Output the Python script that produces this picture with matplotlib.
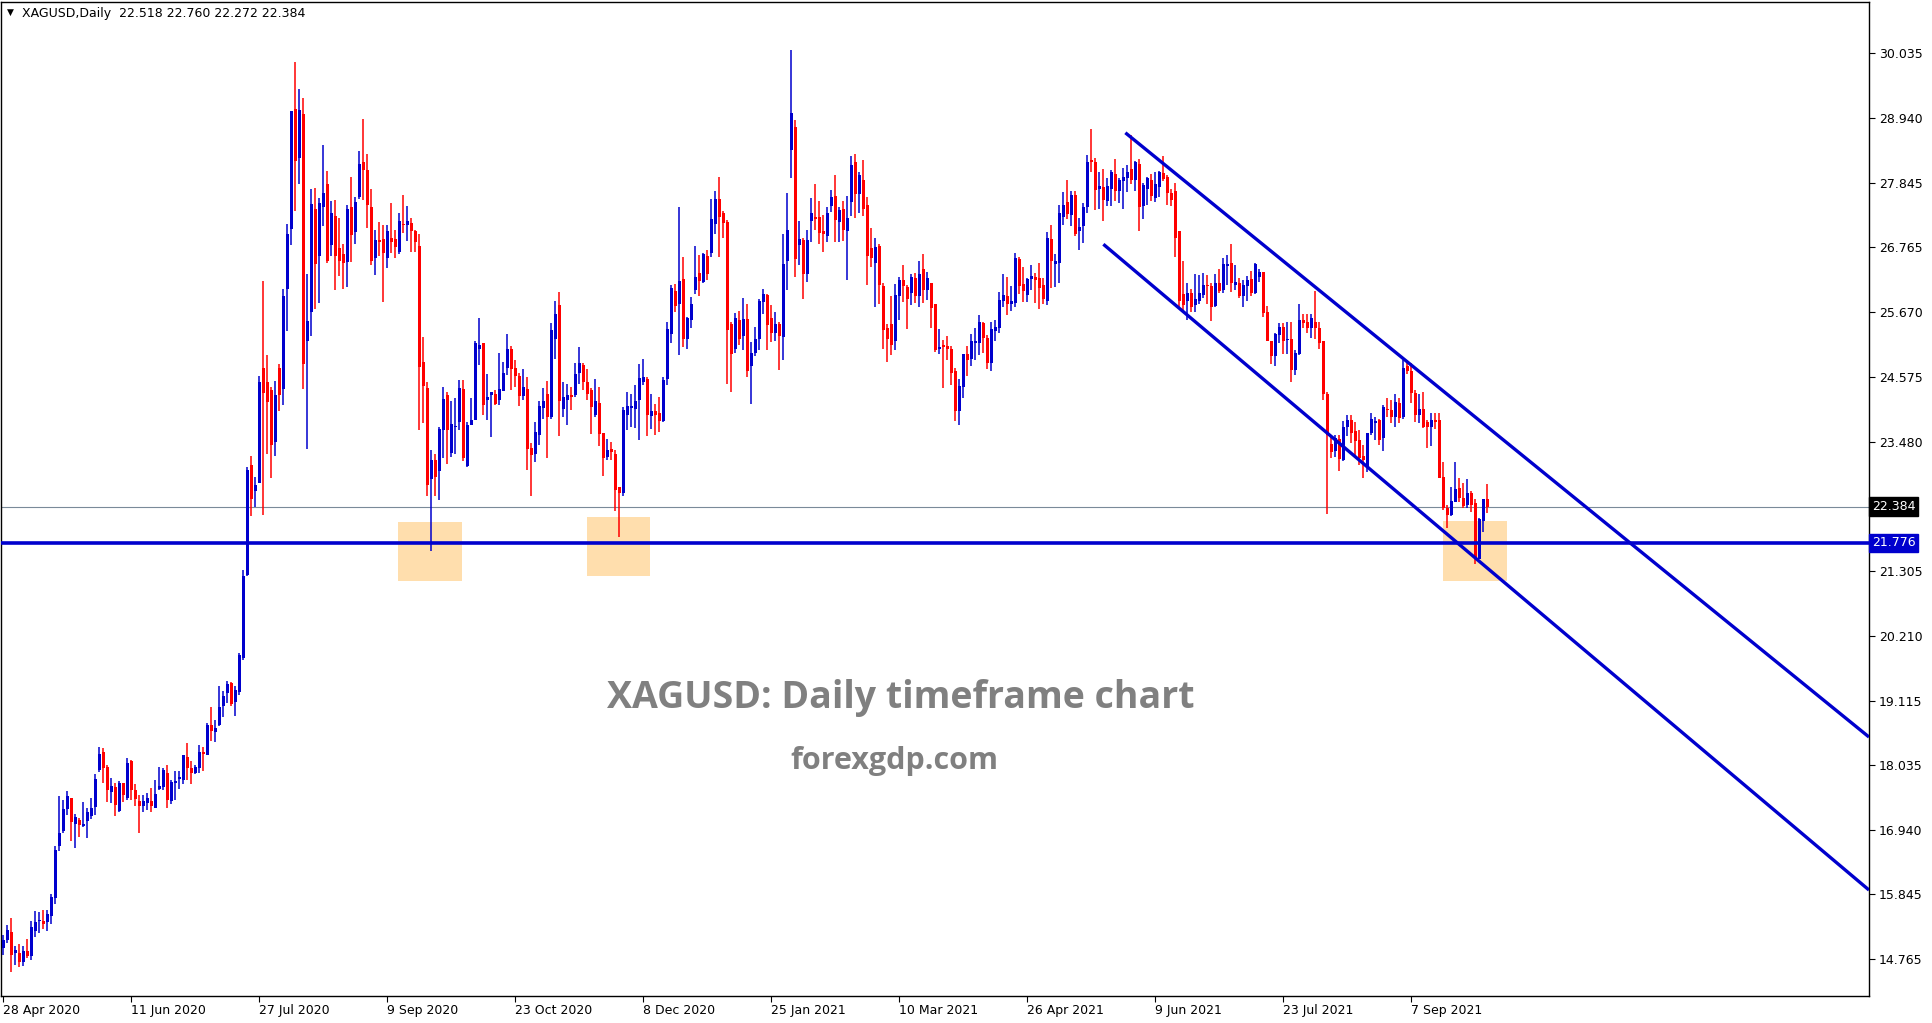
import numpy as np
import matplotlib
matplotlib.use("Agg")
import matplotlib.pyplot as plt
import matplotlib.transforms as mtransforms
from matplotlib.patches import Rectangle

# daily XAGUSD candles (bar 0 = 28 Apr 2020)
opens = [
    14.94, 15.07, 15.21, 14.86, 14.85, 14.71, 14.89, 14.81, 15.23, 15.40,
    15.40, 15.38, 15.49, 15.79, 16.66, 16.92, 17.28, 17.47, 17.04, 17.10,
    17.00, 17.09, 17.17, 17.32, 17.94, 18.24, 17.99, 17.58, 17.65, 17.25,
    17.72, 17.48, 18.09, 17.61, 17.42, 17.33, 17.38, 17.42, 17.31, 17.62,
    17.66, 17.89, 17.42, 17.73, 17.79, 17.78, 18.17, 17.98, 17.90, 17.98,
    18.25, 18.19, 18.70, 18.59, 18.70, 19.03, 19.25, 19.41, 19.09, 19.26,
    19.83, 21.24, 23.08, 22.65, 22.78, 24.72, 24.49, 24.35, 23.48, 24.72,
    24.37, 26.06, 27.06, 29.09, 28.26, 29.00, 25.17, 25.66, 27.40, 26.61,
    27.44, 27.83, 26.80, 27.28, 26.75, 26.64, 26.51, 27.44, 27.01, 27.61,
    28.19, 28.06, 27.43, 26.58, 26.88, 26.89, 26.58, 26.91, 26.89, 26.68,
    27.15, 27.13, 27.17, 27.03, 26.78, 24.82, 24.38, 22.85, 23.17, 22.99,
    23.68, 24.27, 23.29, 23.73, 23.82, 24.37, 23.07, 23.77, 23.85, 25.05,
    25.14, 24.18, 24.26, 24.28, 24.19, 24.34, 24.72, 25.04, 24.72, 24.59,
    24.25, 24.37, 23.37, 23.27, 23.59, 24.05, 24.28, 23.89, 25.21, 25.79,
    24.03, 24.18, 24.27, 24.27, 24.64, 24.77, 24.49, 24.35, 23.93, 24.13,
    23.62, 23.23, 23.35, 23.27, 22.72, 22.61, 23.93, 24.05, 24.04, 24.18,
    24.48, 24.54, 23.92, 23.99, 23.96, 23.83, 24.53, 25.30, 26.02, 25.81,
    26.23, 25.22, 25.54, 26.04, 26.32, 26.18, 26.61, 26.67, 27.15, 27.57,
    27.33, 27.18, 25.46, 25.05, 25.53, 25.27, 25.55, 24.75, 24.98, 25.21,
    25.84, 25.95, 25.57, 25.32, 25.46, 25.25, 26.53, 28.40, 28.78, 26.80,
    26.88, 26.31, 27.20, 27.27, 27.27, 27.03, 26.95, 27.45, 27.62, 27.19,
    27.40, 27.03, 27.53, 28.19, 27.66, 27.90, 27.47, 26.74, 26.50, 26.78,
    26.11, 25.39, 25.47, 25.17, 25.93, 26.21, 26.09, 25.98, 26.24, 25.94,
    26.40, 26.04, 26.15, 25.80, 25.04, 25.11, 25.09, 25.04, 24.67, 24.00,
    24.41, 24.96, 24.88, 25.14, 25.15, 25.49, 25.23, 24.81, 25.35, 25.40,
    25.85, 25.94, 25.80, 25.82, 26.56, 26.14, 25.95, 26.22, 26.26, 26.24,
    26.12, 25.86, 26.90, 26.47, 26.50, 27.27, 27.52, 27.30, 27.64, 27.03,
    27.11, 27.43, 28.23, 28.20, 27.74, 27.78, 27.54, 27.74, 27.99, 27.70,
    27.88, 27.93, 28.08, 27.89, 28.16, 27.46, 27.75, 27.89, 27.59, 27.77,
    28.01, 27.94, 27.68, 27.70, 27.03, 25.97, 25.86, 25.98, 25.79, 25.86,
    25.95, 26.12, 26.10, 25.77, 26.15, 26.04, 26.45, 26.50, 26.13, 26.16,
    25.93, 26.11, 26.22, 25.98, 26.25, 26.35, 25.66, 25.18, 24.93, 25.28,
    25.42, 25.19, 25.22, 24.69, 24.96, 25.53, 25.50, 25.39, 25.50, 25.40,
    25.17, 24.28, 23.44, 23.32, 23.53, 23.17, 23.73, 23.85, 23.66, 23.51,
    23.24, 23.04, 23.62, 23.80, 23.85, 23.55, 24.03, 24.01, 23.90, 24.14,
    23.90, 24.75, 24.67, 24.30, 23.93, 24.04, 23.82, 23.73, 23.85, 23.85,
    22.89, 22.37, 22.24, 22.47, 22.70, 22.53, 22.42, 22.61, 22.44, 21.51,
    22.14, 22.518,
]
highs = [
    15.16, 15.33, 15.44, 14.98, 15.01, 14.98, 15.09, 15.39, 15.57, 15.55,
    15.58, 15.59, 15.86, 16.67, 17.50, 17.44, 17.59, 17.48, 17.20, 17.14,
    17.40, 17.30, 17.47, 17.88, 18.33, 18.31, 18.03, 17.81, 17.72, 17.76,
    17.72, 18.15, 18.11, 17.71, 17.52, 17.52, 17.55, 17.64, 17.78, 18.00,
    17.98, 18.03, 17.78, 17.92, 17.93, 18.20, 18.40, 18.10, 18.02, 18.37,
    18.34, 18.74, 19.01, 18.78, 19.36, 19.28, 19.44, 19.43, 19.36, 19.91,
    21.31, 23.05, 23.24, 22.89, 24.58, 26.19, 24.95, 24.40, 24.50, 24.79,
    26.06, 27.15, 29.05, 29.89, 29.43, 29.27, 26.30, 27.75, 27.76, 27.59,
    28.48, 28.05, 27.54, 27.56, 27.25, 26.82, 27.47, 27.95, 27.61, 28.38,
    28.93, 28.33, 27.74, 27.05, 27.19, 27.13, 27.13, 27.51, 27.05, 27.33,
    27.64, 27.45, 27.25, 27.05, 26.99, 25.25, 24.48, 23.34, 23.28, 23.73,
    24.40, 24.32, 24.17, 24.21, 24.52, 24.52, 23.82, 24.21, 25.17, 25.56,
    25.15, 24.63, 24.32, 24.36, 24.98, 24.82, 25.30, 25.09, 24.86, 24.64,
    24.70, 24.57, 23.45, 23.82, 24.17, 24.39, 24.50, 25.49, 25.85, 26.00,
    24.49, 24.45, 24.41, 24.81, 25.08, 24.81, 24.70, 24.38, 24.54, 24.40,
    23.63, 23.53, 23.48, 23.34, 22.72, 24.06, 24.32, 24.28, 24.43, 24.79,
    24.88, 24.57, 24.28, 24.12, 24.23, 24.57, 25.50, 26.12, 26.14, 27.43,
    26.59, 25.59, 25.92, 26.78, 26.63, 26.67, 26.71, 27.58, 27.71, 27.94,
    27.37, 27.22, 25.50, 25.65, 25.68, 25.90, 25.80, 25.16, 25.41, 25.89,
    26.06, 25.97, 25.79, 25.67, 25.50, 26.98, 27.67, 30.09, 28.91, 27.20,
    26.91, 27.05, 27.59, 27.83, 27.54, 27.30, 27.44, 27.72, 27.98, 27.43,
    27.54, 27.62, 28.30, 28.34, 28.02, 28.23, 27.60, 27.08, 26.92, 26.82,
    26.15, 25.46, 25.94, 26.14, 26.25, 26.46, 26.12, 26.31, 26.33, 26.53,
    26.64, 26.35, 26.16, 25.81, 25.38, 25.20, 25.26, 25.09, 24.73, 24.54,
    24.96, 25.09, 25.30, 25.39, 25.62, 25.50, 25.28, 25.50, 25.53, 26.00,
    26.31, 26.25, 26.11, 26.66, 26.59, 26.43, 26.24, 26.46, 26.32, 26.50,
    26.24, 27.02, 27.13, 26.65, 27.47, 27.69, 27.89, 27.71, 27.71, 27.25,
    27.51, 28.31, 28.76, 28.27, 28.03, 28.08, 27.93, 28.06, 28.25, 27.92,
    28.10, 28.15, 28.65, 28.21, 28.24, 27.85, 27.95, 27.99, 28.03, 28.04,
    28.30, 27.98, 27.75, 27.84, 27.03, 26.52, 26.15, 26.06, 26.31, 26.29,
    26.33, 26.29, 26.15, 26.31, 26.40, 26.57, 26.63, 26.81, 26.46, 26.24,
    26.21, 26.28, 26.36, 26.49, 26.40, 26.35, 25.77, 25.18, 25.31, 25.48,
    25.48, 25.50, 25.50, 25.03, 25.80, 25.64, 25.64, 25.63, 26.02, 25.50,
    25.17, 24.32, 23.59, 23.60, 23.60, 23.83, 23.93, 23.93, 23.82, 23.68,
    23.42, 23.62, 23.96, 23.90, 23.86, 24.10, 24.21, 24.19, 24.28, 24.21,
    24.86, 24.86, 24.80, 24.35, 24.28, 24.31, 23.85, 23.96, 23.96, 23.96,
    23.14, 22.41, 22.71, 23.14, 22.87, 22.79, 22.85, 22.65, 22.52, 22.19,
    22.51, 22.760,
]
lows = [
    14.82, 15.02, 14.53, 14.66, 14.63, 14.64, 14.77, 14.74, 15.12, 15.20,
    15.26, 15.23, 15.35, 15.68, 16.58, 16.88, 17.19, 16.75, 16.63, 16.81,
    16.98, 16.79, 17.11, 17.19, 17.91, 17.72, 17.41, 17.39, 17.16, 17.24,
    17.41, 17.44, 17.44, 17.33, 16.89, 17.23, 17.27, 17.24, 17.31, 17.60,
    17.61, 17.31, 17.37, 17.44, 17.62, 17.71, 17.78, 17.71, 17.88, 17.89,
    17.93, 18.19, 18.44, 18.42, 18.69, 18.83, 19.07, 19.03, 18.85, 19.21,
    19.80, 21.21, 22.22, 22.38, 22.78, 22.25, 23.27, 22.87, 23.24, 23.99,
    24.10, 25.35, 26.80, 27.37, 27.82, 24.37, 23.36, 25.27, 25.72, 25.82,
    27.11, 26.49, 26.61, 26.03, 26.27, 26.06, 26.09, 26.51, 26.82, 27.57,
    27.56, 27.08, 26.46, 26.29, 26.61, 25.84, 26.41, 26.66, 26.57, 26.64,
    27.00, 26.86, 26.68, 26.68, 23.68, 23.80, 22.57, 21.64, 22.56, 22.49,
    23.20, 23.10, 23.22, 23.28, 23.68, 23.16, 23.05, 23.76, 23.84, 24.77,
    23.93, 23.85, 23.56, 24.10, 24.10, 24.34, 24.61, 24.35, 24.41, 24.08,
    24.18, 23.00, 22.56, 23.14, 23.42, 23.86, 23.21, 23.86, 24.88, 23.57,
    23.89, 23.76, 24.02, 24.23, 24.45, 24.35, 24.19, 23.61, 23.89, 23.41,
    22.91, 23.18, 23.18, 22.32, 21.88, 22.56, 23.68, 23.73, 23.71, 23.51,
    24.43, 23.58, 23.69, 23.60, 23.65, 23.81, 24.44, 25.15, 25.66, 24.94,
    25.07, 25.05, 25.40, 25.97, 25.94, 26.15, 26.21, 26.60, 26.98, 26.60,
    26.92, 24.45, 24.32, 24.98, 25.11, 25.03, 24.57, 24.12, 24.93, 25.02,
    25.64, 25.02, 25.16, 25.18, 24.69, 24.85, 26.04, 27.93, 26.26, 26.46,
    25.89, 26.17, 26.84, 27.05, 26.81, 26.68, 26.85, 27.35, 26.84, 26.85,
    26.87, 26.21, 27.28, 27.26, 27.33, 27.28, 26.13, 26.43, 25.76, 25.81,
    25.05, 24.83, 24.94, 25.03, 25.53, 25.84, 25.38, 25.79, 25.82, 25.76,
    25.82, 25.87, 25.40, 25.00, 24.96, 24.39, 24.86, 24.44, 23.83, 23.76,
    24.22, 24.59, 24.76, 24.85, 24.94, 24.98, 24.70, 24.68, 25.18, 25.32,
    25.76, 25.62, 25.69, 25.76, 25.97, 25.84, 25.84, 26.04, 25.82, 25.71,
    25.81, 25.79, 26.08, 26.09, 26.16, 27.13, 27.23, 27.11, 26.95, 26.71,
    26.83, 27.34, 28.02, 27.38, 27.40, 27.20, 27.45, 27.46, 27.54, 27.50,
    27.40, 27.69, 27.83, 27.70, 27.03, 27.23, 27.48, 27.54, 27.52, 27.60,
    27.87, 27.47, 27.45, 26.60, 25.76, 25.67, 25.53, 25.67, 25.66, 25.81,
    25.90, 25.81, 25.52, 25.76, 25.98, 25.98, 26.12, 26.01, 26.04, 25.91,
    25.76, 25.86, 25.93, 25.97, 26.17, 25.59, 25.17, 24.79, 24.75, 25.14,
    24.96, 24.96, 24.48, 24.60, 24.94, 25.39, 25.31, 25.23, 25.22, 25.05,
    24.18, 22.26, 23.21, 23.23, 22.99, 23.15, 23.57, 23.45, 23.26, 23.08,
    22.86, 22.97, 23.59, 23.51, 23.42, 23.33, 23.90, 23.79, 23.73, 23.79,
    23.87, 24.63, 24.14, 23.82, 23.79, 23.71, 23.37, 23.41, 23.70, 22.86,
    22.33, 22.02, 22.22, 22.46, 22.47, 22.36, 22.36, 22.30, 21.41, 21.50,
    21.96, 22.272,
]
closes = [
    15.08, 15.25, 14.83, 14.91, 14.71, 14.89, 14.81, 15.29, 15.38, 15.41,
    15.35, 15.52, 15.80, 16.59, 16.89, 17.29, 17.50, 17.06, 17.15, 17.02,
    17.04, 17.24, 17.31, 17.80, 18.21, 17.98, 17.60, 17.67, 17.36, 17.72,
    17.53, 18.06, 17.60, 17.45, 17.33, 17.42, 17.47, 17.33, 17.54, 17.68,
    17.94, 17.44, 17.75, 17.76, 17.83, 18.19, 17.98, 17.90, 18.00, 18.25,
    18.21, 18.70, 18.61, 18.66, 19.01, 19.19, 19.39, 19.06, 19.29, 19.88,
    21.21, 23.00, 22.52, 22.75, 24.49, 24.30, 24.15, 23.42, 24.27, 24.27,
    25.94, 26.98, 29.05, 28.21, 29.07, 24.79, 25.51, 27.49, 26.47, 27.51,
    27.68, 26.52, 27.33, 26.61, 26.52, 26.49, 27.40, 26.97, 27.53, 28.17,
    28.07, 27.47, 26.53, 26.88, 26.85, 26.67, 27.03, 26.85, 26.77, 27.20,
    27.14, 27.20, 27.03, 26.84, 24.74, 24.42, 22.75, 23.17, 22.89, 23.69,
    24.20, 23.68, 23.78, 23.75, 24.38, 23.21, 23.77, 23.84, 25.15, 25.11,
    24.10, 24.23, 24.31, 24.12, 24.37, 24.64, 25.04, 24.70, 24.59, 24.25,
    24.41, 23.36, 23.25, 23.64, 24.08, 24.17, 23.90, 25.36, 25.63, 24.17,
    24.24, 24.27, 24.24, 24.62, 24.81, 24.49, 24.28, 24.07, 24.17, 23.61,
    23.21, 23.34, 23.30, 22.66, 22.62, 24.01, 24.09, 24.08, 24.17, 24.55,
    24.57, 23.93, 23.99, 23.93, 23.83, 24.52, 25.38, 26.07, 25.77, 26.19,
    25.21, 25.56, 25.80, 26.26, 26.19, 26.64, 26.31, 27.24, 27.57, 27.27,
    27.17, 25.37, 24.96, 25.56, 25.22, 25.55, 24.68, 24.97, 25.21, 25.85,
    25.97, 25.45, 25.32, 25.46, 25.27, 26.48, 27.05, 29.03, 26.56, 26.89,
    26.31, 26.88, 27.33, 27.24, 27.00, 26.98, 27.33, 27.61, 27.22, 27.39,
    27.05, 27.25, 28.15, 27.65, 27.98, 27.40, 26.62, 26.57, 26.76, 26.12,
    25.36, 25.22, 25.11, 25.95, 26.21, 26.11, 25.89, 26.26, 25.94, 26.31,
    26.04, 26.24, 25.74, 25.03, 25.07, 25.07, 25.04, 24.64, 23.99, 24.42,
    24.96, 24.86, 25.18, 25.17, 25.50, 25.23, 24.81, 25.38, 25.41, 25.87,
    25.95, 25.80, 25.85, 26.57, 26.11, 26.02, 26.22, 26.27, 26.21, 26.08,
    25.89, 26.92, 26.52, 26.53, 27.34, 27.47, 27.32, 27.64, 26.98, 27.10,
    27.44, 28.20, 28.20, 27.72, 27.80, 27.56, 27.79, 28.03, 27.70, 27.89,
    27.95, 28.03, 27.89, 28.19, 27.43, 27.81, 27.92, 27.62, 27.82, 28.03,
    27.91, 27.68, 27.55, 26.92, 25.86, 25.79, 25.98, 25.76, 25.89, 25.98,
    26.12, 26.10, 25.76, 26.15, 26.02, 26.48, 26.48, 26.16, 26.17, 25.93,
    26.12, 26.21, 25.98, 26.47, 26.35, 25.65, 25.17, 24.93, 25.30, 25.42,
    25.18, 25.20, 24.69, 24.97, 25.53, 25.49, 25.39, 25.56, 25.39, 25.14,
    24.28, 23.59, 23.31, 23.54, 23.19, 23.72, 23.85, 23.63, 23.50, 23.21,
    23.17, 23.62, 23.87, 23.83, 23.51, 24.06, 24.01, 23.90, 24.15, 23.88,
    24.72, 24.67, 24.30, 23.93, 24.03, 23.72, 23.72, 23.85, 23.82, 22.87,
    22.36, 22.24, 22.48, 22.69, 22.53, 22.39, 22.61, 22.42, 21.51, 22.18,
    22.51, 22.384,
]

date_labels = ["28 Apr 2020", "11 Jun 2020", "27 Jul 2020", "9 Sep 2020",
               "23 Oct 2020", "8 Dec 2020", "25 Jan 2021", "10 Mar 2021",
               "26 Apr 2021", "9 Jun 2021", "23 Jul 2021", "7 Sep 2021"]
label_step = 32  # bars between date labels

price_ticks = [30.035, 28.940, 27.845, 26.765, 25.670, 24.575, 23.480,
               21.305, 20.210, 19.115, 18.035, 16.940, 15.845, 14.765]

last_price = 22.384
support_level = 21.776

# support zones: (first bar, last bar, low, high)
zones = [(98.7, 114.7, 21.13, 22.13),
         (145.9, 161.7, 21.21, 22.21),
         (360.0, 375.9, 21.13, 22.15)]

# descending channel: (bar0, price0, bar1, price1)
channel_upper = (280.5, 28.69, 466.4, 18.50)
channel_lower = (275.0, 26.81, 466.4, 15.92)

blue = "#0000CD"
red = "#FF0000"

fig = plt.figure(figsize=(19.33, 10.23), dpi=100)
ax = fig.add_axes([1 / 1933, 27 / 1023, 1868 / 1933, 994 / 1023])

o = np.array(opens)
h = np.array(highs)
l = np.array(lows)
c = np.array(closes)
x = np.arange(len(o))
up = c >= o
colors = np.where(up, blue, red)

# zones go behind the candles
for x0, x1, lo, hi in zones:
    ax.add_patch(Rectangle((x0, lo), x1 - x0, hi - lo, facecolor="#FFDEAD",
                           edgecolor="none", zorder=1))

ax.axhline(last_price, color="#7A8A99", linewidth=0.8, zorder=2)
ax.axhline(support_level, color=blue, linewidth=2.6, zorder=4)

ax.vlines(x, l, h, colors=colors, linewidth=1.1, zorder=3)
body_low = np.minimum(o, c)
body_h = np.maximum(np.abs(c - o), 0.015)
ax.bar(x, body_h, bottom=body_low, width=0.75, color=colors,
       edgecolor="none", zorder=3)

for x0, p0, x1, p1 in (channel_upper, channel_lower):
    ax.plot([x0, x1], [p0, p1], color=blue, linewidth=2.4, zorder=4,
            solid_capstyle="butt")

ax.set_xlim(-0.575, 466.4)
ax.set_ylim(14.133, 30.895)

# axes styling like a trading terminal
for s in ax.spines.values():
    s.set_color("black")
    s.set_linewidth(1.0)
ax.yaxis.tick_right()
ax.set_yticks(price_ticks)
ax.set_yticklabels([f"{p:.3f}" for p in price_ticks])
ax.tick_params(axis="y", direction="out", length=4, width=0.8, pad=3,
               labelsize=9, colors="black")
ax.set_xticks(np.arange(len(date_labels)) * label_step)
ax.set_xticklabels(date_labels)
ax.tick_params(axis="x", direction="out", length=4, width=0.8, pad=2,
               labelsize=9, colors="black")
for lbl in ax.get_xticklabels():
    lbl.set_horizontalalignment("left")

# price tags on the right scale
tag = mtransforms.blended_transform_factory(ax.transAxes, ax.transData)
ax.text(1.0015, last_price, f"{last_price:.3f}", transform=tag, ha="left",
        va="center", fontsize=9, color="white", zorder=6, clip_on=False,
        bbox=dict(boxstyle="square,pad=0.22", fc="black", ec="black"))
ax.text(1.0015, support_level, f"{support_level:.3f}", transform=tag,
        ha="left", va="center", fontsize=9, color="white", zorder=6,
        clip_on=False, bbox=dict(boxstyle="square,pad=0.22", fc=blue, ec=blue))

# header line
ax.text(0.003, 0.994, "\u25BC", transform=ax.transAxes, ha="left", va="top",
        fontsize=6.5, color="black")
ax.text(0.0115, 0.995, "XAGUSD,Daily  22.518 22.760 22.272 22.384",
        transform=ax.transAxes, ha="left", va="top", fontsize=9,
        color="black")

# watermark
ax.text(0.4818, 0.3000, "XAGUSD: Daily timeframe chart", transform=ax.transAxes,
        ha="center", va="center", fontsize=27, fontweight="bold",
        family="Open Sans", color="#808080", zorder=5)
ax.text(0.4785, 0.2365, "forexgdp.com", transform=ax.transAxes, ha="center",
        va="center", fontsize=22, fontweight="bold", family="Open Sans",
        color="#808080", zorder=5)

fig.savefig("out.png", dpi=100, facecolor="white")
